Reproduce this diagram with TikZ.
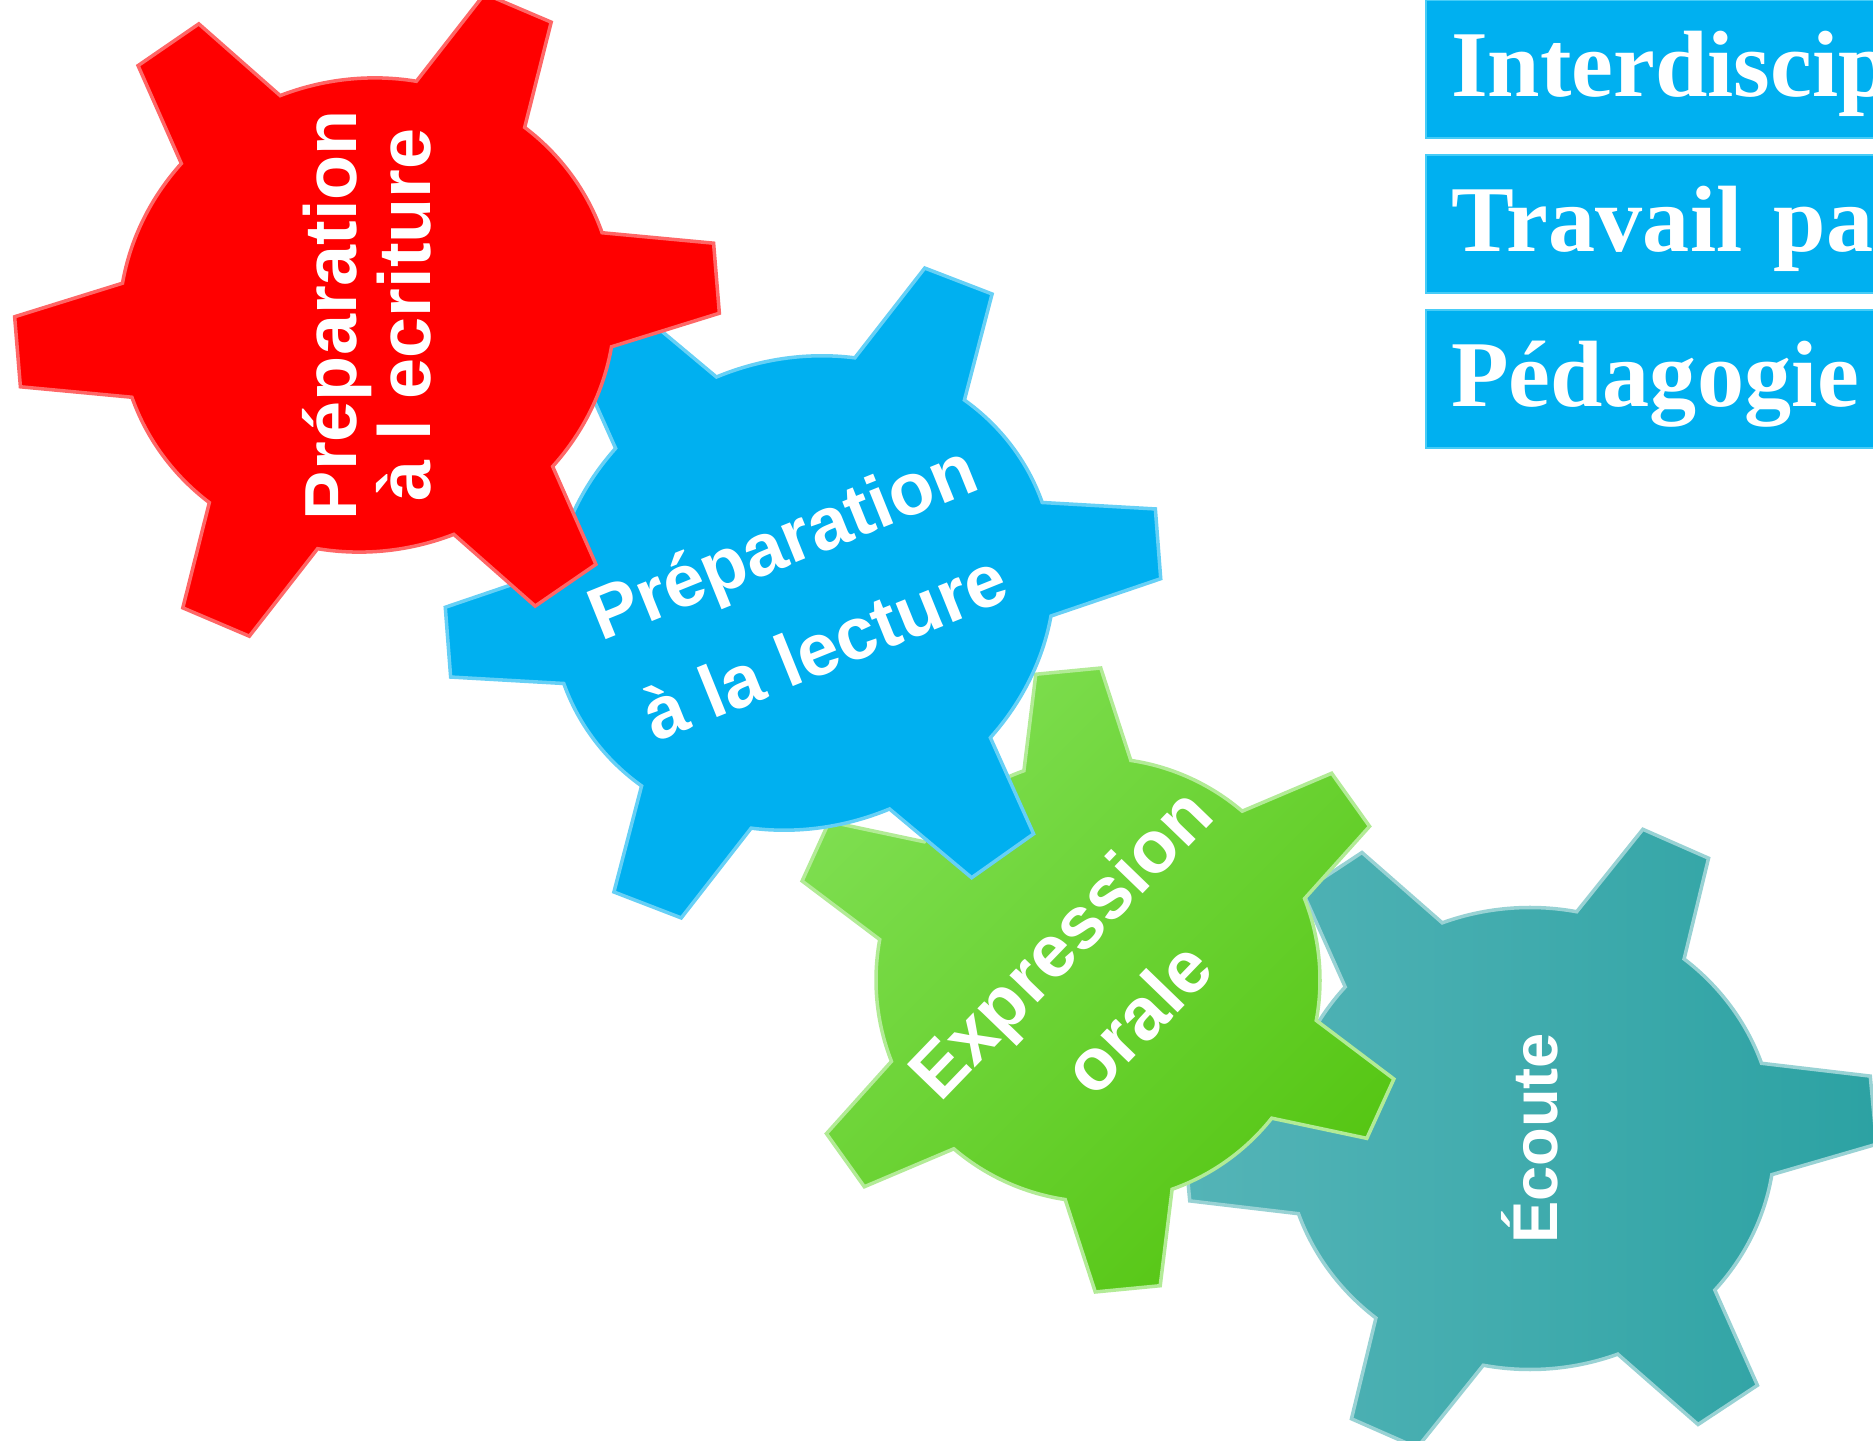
\documentclass[tikz,border=0pt]{standalone}
\usepackage{fontspec}
\usepackage{tikz}
\newfontfamily\zahnschrift{Liberation Sans}
\newfontfamily\kastenschrift{Liberation Serif}
\definecolor{zahnrot}{RGB}{255,0,0}
\definecolor{zahnblau}{RGB}{0,176,240}
\definecolor{gruenhell}{RGB}{126,222,80}
\definecolor{gruendunkel}{RGB}{86,198,20}
\definecolor{tuerkishell}{RGB}{84,180,183}
\definecolor{tuerkisdunkel}{RGB}{44,162,163}
\definecolor{kastenrand}{RGB}{70,204,247}
% Zahnrad: Radius Koerper, Radius Zahnspitze, Drehwinkel
\newcommand{\zahnrad}[3]{({#3-46}:#1) foreach \k in {0,...,5}{
	arc[start angle={#3+60*\k-46}, end angle={#3+60*\k-14}, radius=#1]
	-- ({#3+60*\k-6}:#2) -- ({#3+60*\k+6}:#2) -- ({#3+60*\k+14}:#1)} -- cycle}

\begin{document}
\begin{tikzpicture}[
	zahntext/.style={text=white, align=center, font=\zahnschrift\bfseries\fontsize{21}{21}\selectfont},
	kasten/.style={fill=zahnblau, draw=kastenrand, line width=0.6pt, anchor=north west,
		minimum height=1.38cm, text width=4.9cm, inner xsep=0.25cm, align=left,
		text height=0.54cm, text depth=0cm, text=white,
		font=\kastenschrift\bfseries\fontsize{26.8}{27}\selectfont}]
	\useasboundingbox (0,0) rectangle (18.73,14.4);
	\clip (0,0) rectangle (18.73,14.4);
	\coordinate (rot) at (3.67,11.25);
	\coordinate (blau) at (8.03,8.47);
	\coordinate (gruen) at (10.98,4.60);
	\coordinate (tuerkis) at (15.30,3.015);
	% Zahnraeder von hinten nach vorne
	\begin{scope}[shift={(tuerkis)}, xscale=1.06]
		\shade[left color=tuerkishell, right color=tuerkisdunkel, draw=tuerkishell!60!white, line width=1pt] \zahnrad{2.31}{3.27}{5};
	\end{scope}
	\begin{scope}[shift={(gruen)}]
		\shade[top color=gruenhell, bottom color=gruendunkel, shading angle=45, draw=gruenhell!60!white, line width=1pt] \zahnrad{2.22}{3.12}{35.5};
	\end{scope}
	\begin{scope}[shift={(blau)}, xslant=0.035, yslant=0.04, xscale=1.06]
		\filldraw[fill=zahnblau, draw=zahnblau!60!white, line width=1pt] \zahnrad{2.37}{3.37}{6};
	\end{scope}
	\begin{scope}[shift={(rot)}, yslant=0.03, xscale=1.046]
		\filldraw[fill=zahnrot, draw=zahnrot!60!white, line width=1pt] \zahnrad{2.37}{3.37}{4.5};
	\end{scope}
	\node[zahntext, rotate=90] (txtrot) at (rot) {Préparation\\à l ecriture};
	\node[zahntext, rotate=22] (txtblau) at (blau) {Préparation\\[0.4cm]à la lecture};
	\node[zahntext, rotate=46] (txtgruen) at (gruen) {Expression\\[0.34cm]orale};
	\node[zahntext, rotate=90, font=\zahnschrift\bfseries\fontsize{18}{18}\selectfont] (txttuerkis) at (tuerkis) {Écoute};
	% Kaesten oben rechts
	\node[kasten] (interdisc) at (14.25,14.41) {Interdiscip};
	\node[kasten] (travail) at (14.25,12.86) {Travail par};
	\node[kasten] (pedagogie) at (14.25,11.31) {Pédagogie};
\end{tikzpicture}
\end{document}
